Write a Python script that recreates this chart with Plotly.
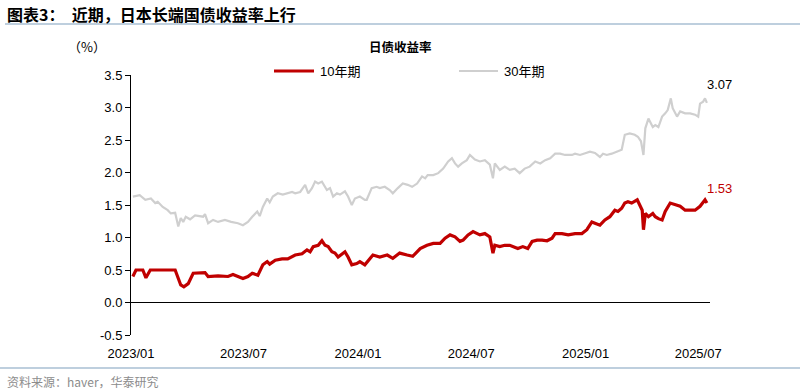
import plotly.graph_objects as go

# ---------------- data ----------------
dates_10y = [
    "2023-01-04", "2023-01-09", "2023-01-20", "2023-01-25", "2023-02-01", "2023-03-13",
    "2023-03-22", "2023-03-27", "2023-04-03", "2023-04-11", "2023-04-30", "2023-05-05",
    "2023-05-21", "2023-06-06", "2023-06-14", "2023-06-30", "2023-07-08", "2023-07-15",
    "2023-07-24", "2023-08-01", "2023-08-08", "2023-08-12", "2023-08-21", "2023-09-01",
    "2023-09-10", "2023-09-22", "2023-10-03", "2023-10-11", "2023-10-16", "2023-10-21",
    "2023-10-29", "2023-11-04", "2023-11-09", "2023-11-14", "2023-11-20", "2023-11-25",
    "2023-11-30", "2023-12-06", "2023-12-11", "2023-12-16", "2023-12-22", "2023-12-30",
    "2024-01-04", "2024-01-12", "2024-01-20", "2024-01-25", "2024-02-05", "2024-02-17",
    "2024-02-26", "2024-03-08", "2024-03-20", "2024-03-29", "2024-04-10", "2024-04-21",
    "2024-05-01", "2024-05-12", "2024-05-20", "2024-05-28", "2024-06-05", "2024-06-13",
    "2024-06-18", "2024-06-26", "2024-07-04", "2024-07-12", "2024-07-15", "2024-07-23",
    "2024-07-31", "2024-08-05", "2024-08-08", "2024-08-16", "2024-08-24", "2024-09-01",
    "2024-09-06", "2024-09-14", "2024-09-22", "2024-09-30", "2024-10-07", "2024-10-15",
    "2024-10-23", "2024-10-31", "2024-11-08", "2024-11-13", "2024-11-24", "2024-12-04",
    "2024-12-15", "2024-12-26", "2025-01-03", "2025-01-11", "2025-01-16", "2025-01-24",
    "2025-02-01", "2025-02-09", "2025-02-17", "2025-02-22", "2025-02-28", "2025-03-05",
    "2025-03-10", "2025-03-16", "2025-03-25", "2025-03-29", "2025-04-02", "2025-04-04",
    "2025-04-07", "2025-04-12", "2025-04-19", "2025-04-23", "2025-04-28", "2025-05-04",
    "2025-05-09", "2025-05-17", "2025-05-25", "2025-06-02", "2025-06-10", "2025-06-18",
    "2025-06-26", "2025-07-04", "2025-07-09", "2025-07-12", "2025-07-15",
]
yield_10y = [
    0.40, 0.50, 0.50, 0.38, 0.50, 0.50,
    0.27, 0.24, 0.29, 0.45, 0.46, 0.40,
    0.41, 0.40, 0.43, 0.37, 0.40, 0.45,
    0.42, 0.58, 0.63, 0.59, 0.65, 0.67,
    0.67, 0.73, 0.75, 0.81, 0.78, 0.86,
    0.88, 0.95, 0.88, 0.86, 0.78, 0.76,
    0.70, 0.74, 0.78, 0.70, 0.58, 0.60,
    0.63, 0.58, 0.68, 0.73, 0.70, 0.73,
    0.68, 0.76, 0.73, 0.71, 0.83, 0.88,
    0.91, 0.91, 0.99, 1.04, 1.01, 0.94,
    0.96, 1.04, 1.09, 1.06, 1.04, 1.06,
    1.01, 0.76, 0.88, 0.86, 0.88, 0.88,
    0.86, 0.83, 0.86, 0.83, 0.94, 0.96,
    0.96, 0.95, 0.99, 1.06, 1.06, 1.04,
    1.06, 1.06, 1.12, 1.24, 1.22, 1.19,
    1.27, 1.32, 1.42, 1.40, 1.45, 1.53,
    1.55, 1.53, 1.58, 1.50, 1.42, 1.12,
    1.37, 1.32, 1.37, 1.32, 1.29, 1.27,
    1.40, 1.53, 1.50, 1.48, 1.42, 1.42,
    1.42, 1.48, 1.55, 1.58, 1.53,
]

dates_30y = [
    "2023-01-04", "2023-01-15", "2023-01-24", "2023-02-02", "2023-02-09", "2023-02-13",
    "2023-02-21", "2023-03-01", "2023-03-06", "2023-03-13", "2023-03-18", "2023-03-22",
    "2023-03-26", "2023-03-30", "2023-04-06", "2023-04-14", "2023-04-27", "2023-04-30",
    "2023-05-05", "2023-05-13", "2023-05-21", "2023-06-01", "2023-06-11", "2023-06-22",
    "2023-06-30", "2023-07-08", "2023-07-15", "2023-07-23", "2023-07-27", "2023-08-01",
    "2023-08-08", "2023-08-12", "2023-08-17", "2023-08-25", "2023-09-02", "2023-09-09",
    "2023-09-17", "2023-09-22", "2023-09-30", "2023-10-08", "2023-10-13", "2023-10-19",
    "2023-10-24", "2023-10-29", "2023-11-04", "2023-11-12", "2023-11-17", "2023-11-22",
    "2023-11-28", "2023-12-03", "2023-12-11", "2023-12-16", "2023-12-22", "2023-12-27",
    "2024-01-04", "2024-01-12", "2024-01-15", "2024-01-23", "2024-01-31", "2024-02-05",
    "2024-02-13", "2024-02-21", "2024-02-26", "2024-03-05", "2024-03-13", "2024-03-21",
    "2024-03-28", "2024-04-05", "2024-04-13", "2024-04-18", "2024-04-22", "2024-05-01",
    "2024-05-09", "2024-05-17", "2024-05-25", "2024-05-31", "2024-06-05", "2024-06-10",
    "2024-06-16", "2024-06-24", "2024-06-29", "2024-07-07", "2024-07-15", "2024-07-23",
    "2024-07-31", "2024-08-05", "2024-08-08", "2024-08-16", "2024-08-24", "2024-09-01",
    "2024-09-09", "2024-09-17", "2024-09-25", "2024-10-03", "2024-10-12", "2024-10-20",
    "2024-10-28", "2024-11-05", "2024-11-13", "2024-11-21", "2024-11-29", "2024-12-10",
    "2024-12-15", "2024-12-23", "2024-12-31", "2025-01-08", "2025-01-16", "2025-01-24",
    "2025-01-29", "2025-02-04", "2025-02-12", "2025-02-20", "2025-02-28", "2025-03-05",
    "2025-03-13", "2025-03-21", "2025-03-26", "2025-03-31", "2025-04-04", "2025-04-07",
    "2025-04-12", "2025-04-19", "2025-04-23", "2025-04-28", "2025-05-04", "2025-05-09",
    "2025-05-13", "2025-05-18", "2025-05-21", "2025-05-28", "2025-06-02", "2025-06-10",
    "2025-06-18", "2025-06-26", "2025-07-01", "2025-07-04", "2025-07-09", "2025-07-12",
    "2025-07-15",
]
yield_30y = [
    1.63, 1.65, 1.58, 1.60, 1.53, 1.55,
    1.47, 1.42, 1.37, 1.38, 1.17, 1.30,
    1.24, 1.32, 1.28, 1.34, 1.32, 1.36,
    1.22, 1.27, 1.24, 1.27, 1.24, 1.22,
    1.19, 1.24, 1.32, 1.40, 1.33, 1.47,
    1.60, 1.54, 1.63, 1.68, 1.66, 1.68,
    1.70, 1.68, 1.70, 1.81, 1.68, 1.76,
    1.86, 1.83, 1.86, 1.73, 1.76, 1.63,
    1.68, 1.66, 1.71, 1.63, 1.50, 1.60,
    1.63, 1.58, 1.58, 1.76, 1.78, 1.76,
    1.78, 1.73, 1.68, 1.76, 1.83, 1.81,
    1.78, 1.83, 1.94, 1.91, 1.96, 1.96,
    1.99, 2.06, 2.17, 2.22, 2.14, 2.09,
    2.14, 2.19, 2.27, 2.20, 2.17, 2.19,
    2.12, 1.91, 2.14, 2.04, 2.09, 2.04,
    2.06, 1.99, 2.06, 2.09, 2.17, 2.14,
    2.19, 2.22, 2.29, 2.29, 2.27, 2.27,
    2.29, 2.27, 2.29, 2.32, 2.30, 2.24,
    2.29, 2.27, 2.29, 2.32, 2.35, 2.58,
    2.60, 2.58, 2.55, 2.48, 2.27, 2.68,
    2.83, 2.70, 2.73, 2.70, 2.86, 2.91,
    2.96, 3.14, 2.99, 2.86, 2.94, 2.91,
    2.91, 2.89, 2.86, 3.06, 3.09, 3.14,
    3.07,
]

x_tick_dates = ["2023-01-01", "2023-07-01", "2024-01-01", "2024-07-01", "2025-01-01", "2025-07-01"]
x_tick_labels = ["2023/01", "2023/07", "2024/01", "2024/07", "2025/01", "2025/07"]
y_ticks = [-0.5, 0.0, 0.5, 1.0, 1.5, 2.0, 2.5, 3.0, 3.5]

name_10y = "10年期"
name_30y = "30年期"
chart_title = "图表3：  近期，日本长端国债收益率上行"
inner_title = "日债收益率"
unit_label = "（%）"
source_text = "资料来源：haver，华泰研究"

# ---------------- styling ----------------
RED = "#c00000"
GRAY = "#cfcfcf"
LATIN = "Liberation Sans, Arial, Noto Sans CJK SC, sans-serif"
CJK = "Noto Sans CJK SC, Liberation Sans, sans-serif"

W, H = 800, 392
L, R, T, B = 131, 710, 75, 335  # plot area in pixels


def fx(px):
    return (px - L) / (R - L)


def fy(py):
    return (B - py) / (B - T)


fig = go.Figure()
fig.add_trace(go.Scatter(x=dates_30y, y=yield_30y, mode="lines", name=name_30y,
                         line=dict(color=GRAY, width=2.2), showlegend=False))
fig.add_trace(go.Scatter(x=dates_10y, y=yield_10y, mode="lines", name=name_10y,
                         line=dict(color=RED, width=3.2), showlegend=False))

annotations = [
    dict(x=fx(5), y=fy(14), xref="paper", yref="paper", xanchor="left", yanchor="middle",
         text="<b>" + chart_title + "</b>", showarrow=False,
         font=dict(family=CJK, size=16, color="#000000")),
    dict(x=fx(87), y=fy(47), xref="paper", yref="paper", xanchor="center", yanchor="middle",
         text=unit_label, showarrow=False, font=dict(family=CJK, size=13, color="#000000")),
    dict(x=fx(400), y=fy(47), xref="paper", yref="paper", xanchor="center", yanchor="middle",
         text="<b>" + inner_title + "</b>", showarrow=False,
         font=dict(family=CJK, size=12.5, color="#000000")),
    dict(x=fx(318), y=fy(71), xref="paper", yref="paper", xanchor="left", yanchor="middle",
         text=name_10y, showarrow=False, font=dict(family=LATIN, size=13, color="#000000")),
    dict(x=fx(502), y=fy(71), xref="paper", yref="paper", xanchor="left", yanchor="middle",
         text=name_30y, showarrow=False, font=dict(family=LATIN, size=13, color="#000000")),
    dict(x=fx(5), y=fy(381), xref="paper", yref="paper", xanchor="left", yanchor="middle",
         text=source_text, showarrow=False, font=dict(family=CJK, size=12, color="#8c8c8c")),
    # end labels at last points
    dict(x=dates_30y[-1], y=yield_30y[-1], xref="x", yref="y", xanchor="center", yanchor="middle",
         text=f"{yield_30y[-1]:.2f}", showarrow=False, xshift=13, yshift=18,
         font=dict(family=LATIN, size=13, color="#000000")),
    dict(x=dates_10y[-1], y=yield_10y[-1], xref="x", yref="y", xanchor="center", yanchor="middle",
         text=f"{yield_10y[-1]:.2f}", showarrow=False, xshift=13, yshift=15,
         font=dict(family=LATIN, size=13, color=RED)),
]

shapes = [
    dict(type="line", xref="paper", yref="paper", x0=fx(5), x1=fx(800), y0=fy(24), y1=fy(24),
         line=dict(color="#a9bfd3", width=1.5)),
    dict(type="line", xref="paper", yref="paper", x0=fx(0), x1=fx(800), y0=fy(368), y1=fy(368),
         line=dict(color="#a9bfd3", width=1.5)),
    dict(type="line", xref="paper", yref="paper", x0=fx(274), x1=fx(314), y0=fy(71), y1=fy(71),
         line=dict(color=RED, width=3.2)),
    dict(type="line", xref="paper", yref="paper", x0=fx(459), x1=fx(498), y0=fy(71), y1=fy(71),
         line=dict(color=GRAY, width=2.2)),
]

fig.update_layout(
    width=W, height=H, autosize=False,
    margin=dict(l=L, r=W - R, t=T, b=H - B, pad=0),
    paper_bgcolor="white", plot_bgcolor="white",
    annotations=annotations, shapes=shapes,
    showlegend=False,
    xaxis=dict(type="date", range=["2023-01-01", "2025-07-20"],
               tickmode="array", tickvals=x_tick_dates, ticktext=x_tick_labels,
               showgrid=False, showline=False, zeroline=False,
               ticks="outside", ticklen=6, tickcolor="rgba(0,0,0,0)",
               tickfont=dict(family=LATIN, size=13, color="#000000")),
    yaxis=dict(range=[-0.5, 3.5], tickmode="array", tickvals=y_ticks,
               ticktext=[f"{v:.1f}" for v in y_ticks],
               showgrid=False, showline=True, linecolor="#000000", linewidth=1,
               ticks="outside", ticklen=5, tickcolor="#000000",
               zeroline=True, zerolinecolor="#000000", zerolinewidth=1,
               tickfont=dict(family=LATIN, size=13, color="#000000")),
)

fig.write_html(
    "out.html",
    config={"displayModeBar": False},
    post_script="document.body.style.margin='0';document.body.style.overflow='hidden';",
)
